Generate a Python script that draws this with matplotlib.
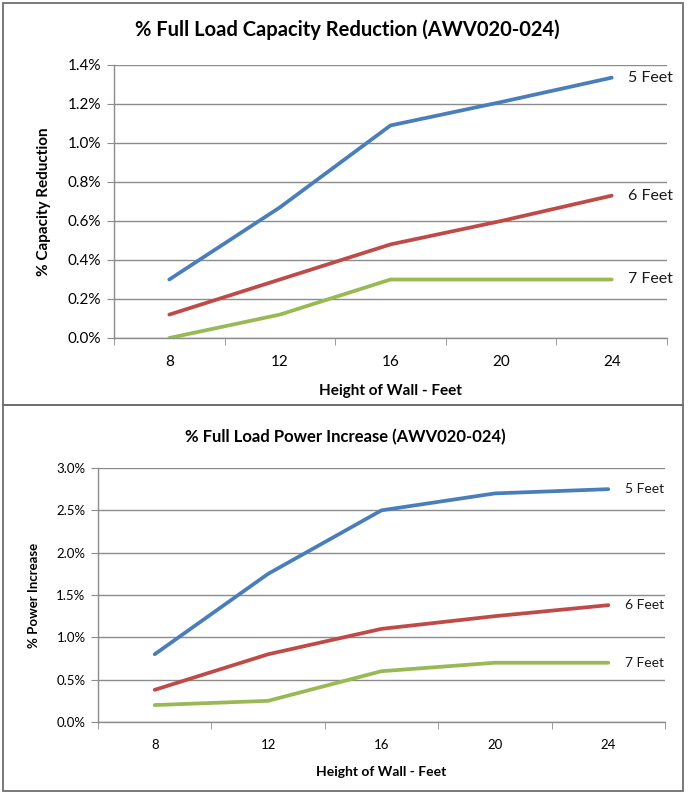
import matplotlib
matplotlib.use('Agg')
import matplotlib.pyplot as plt
from matplotlib.patches import Rectangle
from matplotlib.ticker import FuncFormatter, FixedLocator

plt.rcParams['font.family'] = ['Lato', 'DejaVu Sans']

heights = ['8', '12', '16', '20', '24']
series_names = ['5 Feet', '6 Feet', '7 Feet']

# % capacity reduction
cap_5ft = [0.30, 0.67, 1.09, 1.21, 1.335]
cap_6ft = [0.12, 0.30, 0.48, 0.60, 0.73]
cap_7ft = [0.00, 0.12, 0.30, 0.30, 0.30]

# % power increase
pow_5ft = [0.80, 1.75, 2.50, 2.70, 2.75]
pow_6ft = [0.38, 0.80, 1.10, 1.25, 1.38]
pow_7ft = [0.20, 0.25, 0.60, 0.70, 0.70]

colors = ['#4A7EBB', '#BE4B48', '#98B954']
grid_c = '#8C8C8C'

fig = plt.figure(figsize=(6.9, 7.92), dpi=100)

# panel borders (figure pixels -> fraction)
W, H = 690.0, 792.0
for (x0, y0, x1, y1) in [(3, 3, 683, 405), (3, 405, 683, 791)]:
    fig.add_artist(Rectangle((x0 / W, 1 - y1 / H), (x1 - x0) / W, (y1 - y0) / H,
                             transform=fig.transFigure, fill=False,
                             edgecolor='#6E6E6E', linewidth=1.3))


def setup(ax, data, ymax, ystep, tick_fs, lab_fs, ylabel, ylab_fs, ylab_pad, xlab_fs, xlab_pad):
    x = list(range(len(heights)))
    for vals, c, name in zip(data, colors, series_names):
        ax.plot(x, vals, color=c, linewidth=2.7, solid_capstyle='round', zorder=3)
        ax.annotate(name, (x[-1], vals[-1]), xytext=(12, 0), textcoords='offset points',
                    va='center', ha='left', fontsize=lab_fs, color='#1a1a1a',
                    annotation_clip=False)
    ax.set_xlim(-0.5, len(heights) - 0.5)
    ax.set_ylim(0, ymax)
    n = int(round(ymax / ystep))
    ax.set_yticks([i * ystep for i in range(n + 1)])
    ax.yaxis.set_major_formatter(FuncFormatter(lambda v, p: '{:.1f}%'.format(v)))
    ax.grid(axis='y', color=grid_c, linewidth=1.0)
    ax.set_axisbelow(True)
    ax.set_xticks(x)
    ax.set_xticklabels(heights)
    ax.xaxis.set_minor_locator(FixedLocator([i - 0.5 for i in range(len(heights) + 1)]))
    ax.tick_params(axis='x', which='major', length=0, pad=12, labelsize=tick_fs)
    ax.tick_params(axis='x', which='minor', length=5, color=grid_c, direction='out')
    ax.tick_params(axis='y', length=5, color=grid_c, labelsize=tick_fs, pad=4)
    for s in ['top', 'right']:
        ax.spines[s].set_visible(False)
    for s in ['left', 'bottom']:
        ax.spines[s].set_color(grid_c)
        ax.spines[s].set_linewidth(1.0)
    ax.set_ylabel(ylabel, fontsize=ylab_fs, fontweight='bold', labelpad=ylab_pad)
    ax.set_xlabel('Height of Wall - Feet', fontsize=xlab_fs, fontweight='bold', labelpad=xlab_pad)


ax1 = fig.add_axes([114 / W, 1 - 338 / H, (667 - 114) / W, (338 - 65) / H])
setup(ax1, [cap_5ft, cap_6ft, cap_7ft], 1.4, 0.2, 11, 11.5,
      '% Capacity Reduction', 11, 12, 11, 11)
fig.text(347 / W, 1 - 30 / H, '% Full Load Capacity Reduction (AWV020-024)',
         ha='center', va='center', fontsize=14.5, fontweight='bold')

ax2 = fig.add_axes([98 / W, 1 - 722 / H, (665 - 98) / W, (722 - 468) / H])
setup(ax2, [pow_5ft, pow_6ft, pow_7ft], 3.0, 0.5, 9.5, 10,
      '% Power Increase', 9.5, 12, 10, 11)
fig.text(345 / W, 1 - 437 / H, '% Full Load Power Increase (AWV020-024)',
         ha='center', va='center', fontsize=12, fontweight='bold')

fig.savefig('out.png', dpi=100)
